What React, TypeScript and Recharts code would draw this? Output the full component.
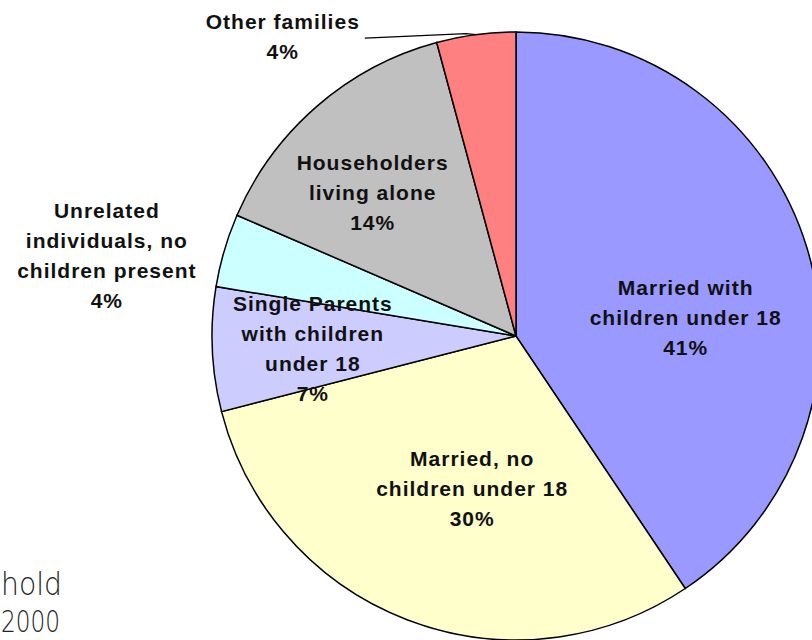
import { PieChart, Pie, Cell } from "recharts";

// ─── Data ────────────────────────────────────────────────────────────────────
const categories = [
  "Married with children under 18",
  "Married, no children under 18",
  "Single Parents with children under 18",
  "Unrelated individuals, no children present",
  "Householders living alone",
  "Other families",
];
const shares = [40.6, 30.4, 6.6, 3.9, 14.3, 4.2];
const percentLabels = ["41%", "30%", "7%", "4%", "14%", "4%"];
const labelLines = [
  ["Married with", "children under 18"],
  ["Married, no", "children under 18"],
  ["Single Parents", "with children", "under 18"],
  ["Unrelated", "individuals, no", "children present"],
  ["Householders", "living alone"],
  ["Other families"],
];
const titleFragments = ["hold", "2000"];

// ─── Styling ─────────────────────────────────────────────────────────────────
const COLORS = ["#9999FF", "#FFFFCC", "#CCCCFF", "#CCFFFF", "#C0C0C0", "#FF8080"];
// nudge (px) from the point at 58% radius along each slice's mid angle
const NUDGE: [number, number][] = [
  [1, 33],
  [19, -12],
  [-27, 5],
  [-240, -31],
  [-28, -10],
  [-210, -125],
];
const LINE_H = 30;
const RAD = Math.PI / 180;

const data = categories.map((name, i) => ({
  name,
  value: shares[i],
  pct: percentLabels[i],
  lines: labelLines[i],
}));

function renderLabel(props: any) {
  const { cx, cy, midAngle, outerRadius, index } = props;
  const r = outerRadius * 0.58;
  const [dx, dy] = NUDGE[index];
  const x = cx + r * Math.cos(-midAngle * RAD) + dx;
  const y = cy + r * Math.sin(-midAngle * RAD) + dy;
  const rows = [...labelLines[index], percentLabels[index]];
  const top = y - ((rows.length - 1) * LINE_H) / 2;
  // leader line only for the small slice at the top
  const showLeader = index === 5;
  const ex = cx + outerRadius * Math.cos(-midAngle * RAD);
  const ey = cy + outerRadius * Math.sin(-midAngle * RAD);
  return (
    <g key={`lbl-${index}`}>
      {showLeader && (
        <polyline
          points={`${x + 82},${y + 2} ${ex - 10},${ey - 1} ${ex},${ey}`}
          fill="none"
          stroke="#000"
          strokeWidth={1.3}
        />
      )}
      <text
        x={x}
        textAnchor="middle"
        fill="#111"
        fontFamily="'Liberation Sans', Arial, sans-serif"
        fontWeight="bold"
        fontSize={21}
        letterSpacing={1}
      >
        {rows.map((row, k) => (
          <tspan key={k} x={x} y={top + k * LINE_H} dominantBaseline="central">
            {row}
          </tspan>
        ))}
      </text>
    </g>
  );
}

export default function App() {
  return (
    <div style={{ position: "absolute", left: 0, top: 0, width: 812, height: 640, background: "#fff", overflow: "hidden" }}>
      {/* title fragments peeking in at the bottom-left */}
      <svg width={812} height={640} style={{ position: "absolute", left: 0, top: 0 }}>
        <text
          x={1}
          y={595}
          fontFamily="'DejaVu Sans', sans-serif"
          fontWeight={200}
          fontSize={32}
          fill="#222"
          textLength={61}
          lengthAdjust="spacingAndGlyphs"
        >
          {titleFragments[0]}
        </text>
        <text
          x={1}
          y={632}
          fontFamily="'DejaVu Sans', sans-serif"
          fontWeight={200}
          fontSize={30}
          fill="#222"
          textLength={59}
          lengthAdjust="spacingAndGlyphs"
        >
          {titleFragments[1]}
        </text>
      </svg>
      <div style={{ position: "absolute", left: 0, top: 0 }}>
        <PieChart width={812} height={640} margin={{ top: 0, right: 0, bottom: 0, left: 0 }}>
          <Pie
            data={data}
            dataKey="value"
            nameKey="name"
            cx={516}
            cy={336}
            outerRadius={304}
            startAngle={90}
            endAngle={-270}
            stroke="#000"
            strokeWidth={1.5}
            label={renderLabel}
            labelLine={false}
            isAnimationActive={false}
          >
            {data.map((d, i) => (
              <Cell key={d.name} fill={COLORS[i]} />
            ))}
          </Pie>
        </PieChart>
      </div>
    </div>
  );
}
